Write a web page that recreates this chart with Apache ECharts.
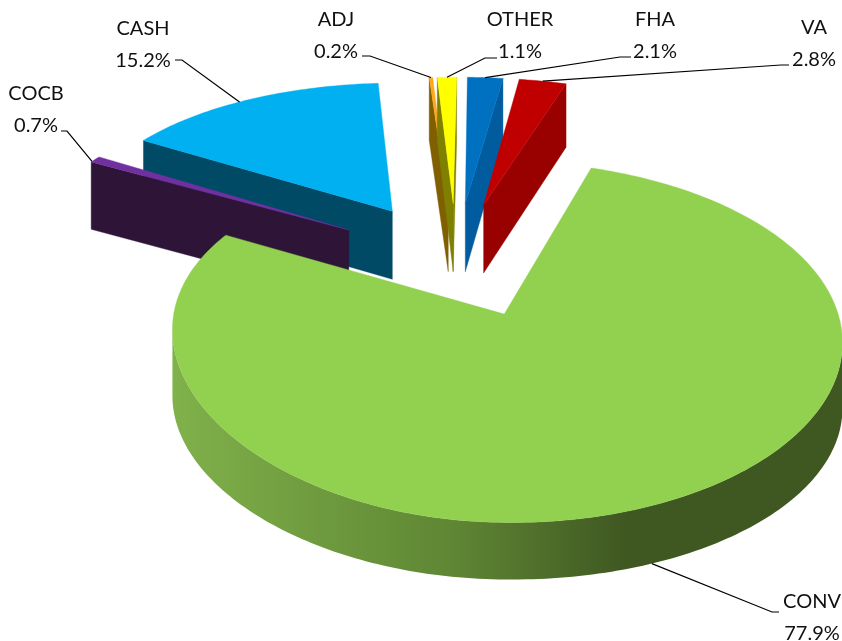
<!DOCTYPE html>
<html>
<head>
<meta charset="utf-8">
<style>html,body{margin:0;padding:0;background:#fff}#c{width:842px;height:641px}</style>
<script src="https://cdn.jsdelivr.net/npm/echarts@6/dist/echarts.min.js"></script>
</head>
<body>
<div id="c"></div>
<script>
// Data
const categories = ['CONV', 'COCB', 'CASH', 'ADJ', 'OTHER', 'FHA', 'VA'];
const values = [77.9, 0.7, 15.2, 0.2, 1.1, 2.1, 2.8];

// Styles
const topColors = ['#92D050', '#7030A0', '#00B0F0', '#FFA81C', '#FFFF00', '#0070C0', '#C00000'];
const wallColors = [null, '#2E1437', '#004A66', '#7F5F00', '#7F7F00', '#005C9E', '#990000'];
const wallGradient = [[0, '#80B14A'], [0.42, '#5F8634'], [0.68, '#3F5721'], [1, '#3F5721']];
const drawOrder = [2, 1, 3, 4, 5, 6, 0];

// Layout: label centre, elbow and label-side end of each leader line
const labelLayout = {
  CONV: {x: 812, y: 586, end: [779, 612], elbow: [772, 612]},
  COCB: {x: 36, y: 78, end: [61, 131], elbow: [67, 131]},
  CASH: {x: 143, y: 13, end: [175, 60], elbow: [182, 60]},
  ADJ: {x: 336, y: 4, end: [362, 56], elbow: [370, 56]},
  OTHER: {x: 520, y: 4, end: [497, 58], elbow: [485, 58]},
  FHA: {x: 655, y: 4, end: [631, 57], elbow: [620, 57]},
  VA: {x: 814, y: 12, end: [789, 65], elbow: [781, 65]}
};
const leaderAngleShift = {CONV: 0, COCB: -1, CASH: -2, ADJ: 0, OTHER: 0, FHA: 0, VA: 0};

// Projection parameters
const P = {cx: 456, cy: 258, R: 319, E: 126, ey: 0.91, D: 2400, DL: 3200, k: 0.5, Dy: 2180, startDeg: 18.3};
const rad = d => d * Math.PI / 180;

function project(X, Y, down) {
  const d = X < 0 ? P.DL : P.D;
  const s = d / (d + Y);
  const yk = P.k / (1 + Y / P.Dy);
  const h = down ? 67.8 + 0.00706 * Y - 4.29e-5 * Y * Y : 0;
  return [P.cx + X * s, P.cy - Y * yk + h];
}
function geom(i) {
  let cum = 0;
  for (let j = 0; j < i; j++) cum += values[j];
  const a0 = P.startDeg + cum * 3.6;
  const a1 = a0 + values[i] * 3.6;
  const mid = rad((a0 + a1) / 2);
  return {a0, a1, ax: P.E * Math.sin(mid), ay: P.E * P.ey * Math.cos(mid)};
}
function rimPoint(g, deg) {
  return [g.ax + P.R * Math.sin(rad(deg)), g.ay + P.R * Math.cos(rad(deg))];
}
function area(q) {
  let s = 0;
  for (let i = 0; i < q.length; i++) {
    const a = q[i], b = q[(i + 1) % q.length];
    s += a[0] * b[1] - b[0] * a[1];
  }
  return s;
}
function wallQuad(w0, w1) {
  return [project(w0[0], w0[1], false), project(w1[0], w1[1], false),
          project(w1[0], w1[1], true), project(w0[0], w0[1], true)];
}
function renderSlice(params, api) {
  const i = api.value(0);
  const g = geom(i);
  const apex = [g.ax, g.ay];
  const n = Math.max(2, Math.ceil(g.a1 - g.a0));
  const rim = [];
  for (let t = 0; t <= n; t++) rim.push(rimPoint(g, g.a0 + (g.a1 - g.a0) * t / n));
  const children = [];
  const wallFill = wallColors[i] || {type: 'linear', x: 0, y: 0, x2: 1, y2: 0,
    colorStops: wallGradient.map(s => ({offset: s[0], color: s[1]}))};
  const poly = (pts, fill) => ({type: 'polygon', shape: {points: pts},
    style: {fill: fill, stroke: typeof fill === 'string' ? fill : null, lineWidth: typeof fill === 'string' ? 0.4 : 0}});

  // radial walls
  [[apex, rim[0]], [rim[n], apex]].forEach(e => {
    const q = wallQuad(e[0], e[1]);
    if (area(q) < 0) children.push(poly(q, wallFill));
  });
  // curved wall: contiguous front-facing runs
  let run = [];
  const flush = () => {
    if (run.length > 1) {
      const topEdge = run.map(p => project(p[0], p[1], false));
      const botEdge = run.map(p => project(p[0], p[1], true)).reverse();
      children.push(poly(topEdge.concat(botEdge), wallFill));
    }
    run = [];
  };
  for (let t = 0; t < n; t++) {
    if (area(wallQuad(rim[t], rim[t + 1])) < 0) {
      if (!run.length) run.push(rim[t]);
      run.push(rim[t + 1]);
    } else flush();
  }
  flush();
  // top surface
  const topPts = [project(apex[0], apex[1], false)].concat(rim.map(p => project(p[0], p[1], false)));
  children.push(poly(topPts, topColors[i]));
  return {type: 'group', children};
}
function renderLabel(params, api) {
  const i = api.value(0);
  const name = categories[i];
  const L = labelLayout[name];
  const g = geom(i);
  const deg = (g.a0 + g.a1) / 2 + leaderAngleShift[name];
  const p = rimPoint(g, deg);
  const tip = name === 'CONV' ? project(p[0], p[1], true) : project(p[0], p[1], false);
  return {type: 'group', children: [
    {type: 'polyline', shape: {points: [L.end, L.elbow, tip]},
      style: {stroke: '#000', lineWidth: 1.2, fill: null}},
    {type: 'text', style: {text: name + '\n' + values[i].toFixed(1) + '%', x: L.x, y: L.y,
      textAlign: 'center', textVerticalAlign: 'top', fill: '#111',
      font: '20px Lato', lineHeight: 32}}
  ]};
}
const chart = echarts.init(document.getElementById('c'), null, {renderer: 'canvas'});
chart.setOption({
  animation: false,
  backgroundColor: '#fff',
  series: [
    {type: 'custom', coordinateSystem: 'none', silent: true, renderItem: renderSlice,
      data: drawOrder.map(i => ({name: categories[i], value: [i, values[i]]}))},
    {type: 'custom', coordinateSystem: 'none', silent: true, renderItem: renderLabel, z: 5,
      data: categories.map((c, i) => ({name: c, value: [i, values[i]]}))}
  ]
});
</script>
</body>
</html>
